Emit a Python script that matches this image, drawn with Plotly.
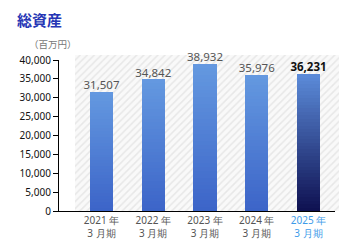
import plotly.graph_objects as go

categories = ["2021 年<br>3 月期", "2022 年<br>3 月期", "2023 年<br>3 月期", "2024 年<br>3 月期", "2025 年<br>3 月期"]
values = [31507, 34842, 38932, 35976, 36231]
value_labels = ["31,507", "34,842", "38,932", "35,976", "<b>36,231</b>"]
y_ticks = [0, 5000, 10000, 15000, 20000, 25000, 30000, 35000, 40000]
y_tick_labels = ["0", "5,000", "10,000", "15,000", "20,000", "25,000", "30,000", "35,000", "40,000"]

W, H = 350, 250
L, R, T, B = 59, 11, 55, 39
plot_w = W - L - R
plot_h = H - T - B

def px_x(p):
    return (p - L) / plot_w

def px_y(p):
    return (H - B - p) / plot_h

def lerp(c1, c2, t):
    return "rgb(%d,%d,%d)" % tuple(round(a + (b - a) * t) for a, b in zip(c1, c2))

normal_top, normal_bot = (100, 153, 224), (60, 100, 200)
last_top, last_bot = (92, 140, 218), (14, 16, 80)

fig = go.Figure()

# hatched plot background (base subplot)
hx0 = px_x(75)
fig.add_trace(go.Bar(
    x=[(hx0 + 1) / 2], y=[1], width=[1 - hx0], xaxis="x", yaxis="y",
    marker=dict(color="#f9f9f9", line_width=0,
                pattern=dict(shape="/", fgcolor="#d6d6d6", bgcolor="#f9f9f9", size=5, solidity=0.3)),
    hoverinfo="skip", showlegend=False,
))

# gradient bars as stacked slices
N = 40
xs = list(range(len(values)))
for i in range(N):
    t = 1 - (i + 0.5) / N  # 1 at bottom -> 0 at top
    colors = []
    for k in xs:
        if k == len(values) - 1:
            colors.append(lerp(last_top, last_bot, t))
        else:
            colors.append(lerp(normal_top, normal_bot, t))
    fig.add_trace(go.Bar(
        x=xs, y=[v / N for v in values], xaxis="x2", yaxis="y2",
        marker=dict(color=colors, line_width=0), width=0.45,
        hoverinfo="skip", showlegend=False,
    ))

fig.add_trace(go.Scatter(
    x=xs, y=values, xaxis="x2", yaxis="y2", mode="text",
    text=value_labels, textposition="top center", cliponaxis=False,
    textfont=dict(family="Noto Sans, Open Sans, sans-serif", size=11.5,
                  color=["#555555"] * 4 + ["#111111"]),
    hoverinfo="skip", showlegend=False,
))

tick_text = []
for k, c in enumerate(categories):
    if k == len(categories) - 1:
        tick_text.append("<span style='color:#3d9be9'>" + c + "</span>")
    else:
        tick_text.append(c)

px_per_cat = 51.75
x_dom_end = px_x(335)
x_left = (L - 101.5) / px_per_cat
x_right = x_left + (335 - L) / px_per_cat

fig.update_layout(
    width=W, height=H,
    margin=dict(l=L, r=R, t=T, b=B),
    paper_bgcolor="white", plot_bgcolor="rgba(0,0,0,0)",
    barmode="stack", bargap=0,
    xaxis=dict(domain=[0, 1], range=[0, 1], visible=False, fixedrange=True),
    yaxis=dict(domain=[0, 1], range=[0, 1], visible=False, fixedrange=True),
    xaxis2=dict(domain=[0, x_dom_end], range=[x_left, x_right], anchor="y2",
                tickmode="array", tickvals=xs, ticktext=tick_text,
                showline=True, linecolor="black", linewidth=1.2,
                showgrid=False, zeroline=False, ticks="",
                tickfont=dict(family="Noto Sans, Open Sans, sans-serif", size=10, color="#555555")),
    yaxis2=dict(domain=[0, px_y(60)], range=[0, 40000], anchor="x2",
                tickmode="array", tickvals=y_ticks, ticktext=y_tick_labels,
                showline=True, linecolor="black", linewidth=1.2,
                ticks="outside", ticklen=5, tickcolor="black", tickwidth=1,
                showgrid=False, zeroline=False,
                tickfont=dict(family="Noto Sans, Open Sans, sans-serif", size=10, color="#111111")),
    annotations=[
        dict(text="<b>総資産</b>", x=px_x(15), y=px_y(20), xref="paper", yref="paper",
             xanchor="left", yanchor="middle", showarrow=False,
             font=dict(family="Noto Sans CJK JP", size=15, color="#2636b5")),
        dict(text="（百万円）", x=px_x(27), y=px_y(44), xref="paper", yref="paper",
             xanchor="left", yanchor="middle", showarrow=False,
             font=dict(family="Noto Sans CJK JP", size=9.5, color="#777777")),
    ],
)

fig.write_html("out.html")
